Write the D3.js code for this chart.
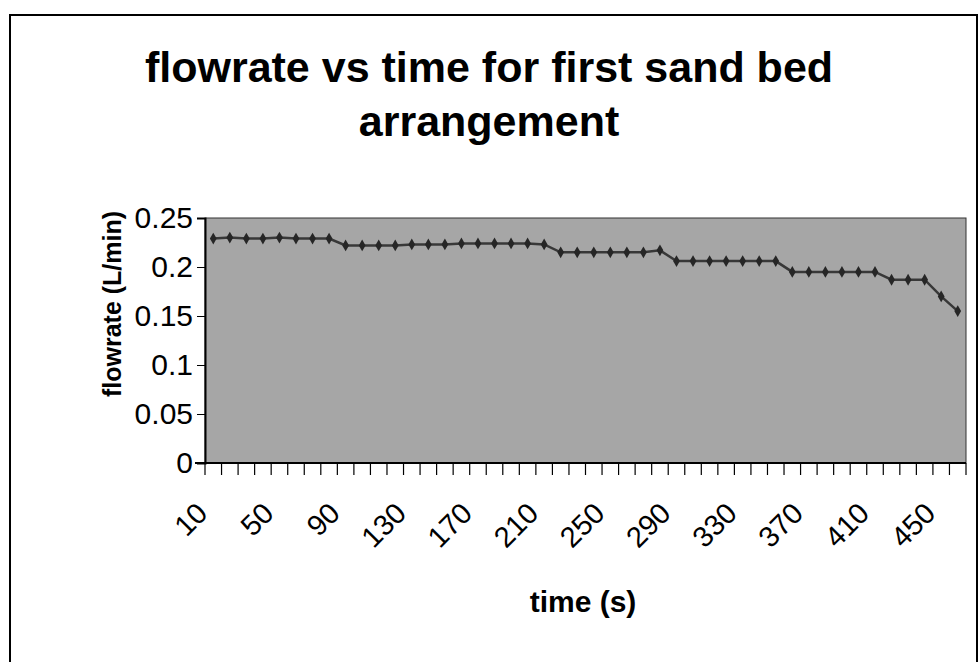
<!DOCTYPE html>
<html>
<head>
<meta charset="utf-8">
<script src="https://cdn.jsdelivr.net/npm/d3@7/dist/d3.min.js"></script>
<style>
  body { margin: 0; background: #fff; }
  svg { display: block; font-family: "Liberation Sans", Arial, sans-serif; }
</style>
</head>
<body>
<svg id="chart" width="980" height="662"></svg>
<script>
// time (s) categories
const times = [10, 20, 30, 40, 50, 60, 70, 80, 90, 100,
  110, 120, 130, 140, 150, 160, 170, 180, 190, 200,
  210, 220, 230, 240, 250, 260, 270, 280, 290, 300,
  310, 320, 330, 340, 350, 360, 370, 380, 390, 400,
  410, 420, 430, 440, 450, 460];

// flowrate (L/min)
const flowrate = [0.229, 0.23, 0.229, 0.229, 0.23, 0.229, 0.229, 0.229,
  0.222, 0.222, 0.222, 0.222, 0.223, 0.223, 0.223, 0.224, 0.224, 0.224, 0.224, 0.224, 0.223,
  0.215, 0.215, 0.215, 0.215, 0.215, 0.215, 0.217,
  0.206, 0.206, 0.206, 0.206, 0.206, 0.206, 0.206,
  0.195, 0.195, 0.195, 0.195, 0.195, 0.195,
  0.187, 0.187, 0.187,
  0.17, 0.155];

const yTicks = [0, 0.05, 0.1, 0.15, 0.2, 0.25];
const xLabels = [10, 50, 90, 130, 170, 210, 250, 290, 330, 370, 410, 450];

const data = times.map((t, i) => ({ t: t, v: flowrate[i] }));

const margin = { top: 218, right: 14, bottom: 199, left: 205 };
const W = 980, H = 662;
const width = W - margin.left - margin.right;
const height = H - margin.top - margin.bottom;

const svg = d3.select("#chart");

// outer chart border
svg.append("rect")
  .attr("x", 10).attr("y", 15)
  .attr("width", 967).attr("height", 700)
  .attr("fill", "none")
  .attr("stroke", "#000")
  .attr("stroke-width", 2);

// title
const title = svg.append("text")
  .attr("text-anchor", "middle")
  .style("font-size", "43px")
  .style("font-weight", "bold");
title.append("tspan").attr("x", 489).attr("y", 82).text("flowrate vs time for first sand bed");
title.append("tspan").attr("x", 489).attr("y", 136).text("arrangement");

const g = svg.append("g")
  .attr("transform", `translate(${margin.left},${margin.top})`);

const x = d3.scaleBand().domain(times).range([0, width]);
const y = d3.scaleLinear().domain([0, 0.25]).range([height, 0]);

// plot area
g.append("rect")
  .attr("width", width)
  .attr("height", height)
  .attr("fill", "#a6a6a6")
  .attr("stroke", "#333")
  .attr("stroke-width", 1);

// y axis
const yAxis = g.append("g")
  .call(d3.axisLeft(y).tickValues(yTicks).tickFormat(d => d === 0 ? "0" : d3.format("")(d)).tickSize(8).tickPadding(4));
yAxis.select(".domain").attr("stroke", "#000").attr("stroke-width", 2);
yAxis.selectAll("text")
  .style("font-size", "30px")
  .attr("fill", "#000");

// x axis: ticks between categories
const xAxis = g.append("g").attr("transform", `translate(0,${height})`);
xAxis.append("line")
  .attr("x1", -10).attr("x2", width)
  .attr("stroke", "#000").attr("stroke-width", 2);
const boundaries = times.map(t => x(t)).concat([width]);
xAxis.selectAll("line.tick")
  .data(boundaries)
  .enter().append("line")
  .attr("class", "tick")
  .attr("x1", d => d).attr("x2", d => d)
  .attr("y1", 0).attr("y2", 12)
  .attr("stroke", "#000").attr("stroke-width", 1.2);
xAxis.selectAll("text")
  .data(xLabels)
  .enter().append("text")
  .attr("transform", d => `translate(${x(d) + x.bandwidth() / 2 - 4},52) rotate(-45)`)
  .attr("text-anchor", "end")
  .style("font-size", "29px")
  .text(d => d);

// series line + markers
const line = d3.line()
  .x(d => x(d.t) + x.bandwidth() / 2)
  .y(d => y(d.v));

g.append("path")
  .datum(data)
  .attr("fill", "none")
  .attr("stroke", "#383838")
  .attr("stroke-width", 2.5)
  .attr("d", line);

g.selectAll("path.marker")
  .data(data)
  .enter().append("path")
  .attr("class", "marker")
  .attr("transform", d => `translate(${x(d.t) + x.bandwidth() / 2},${y(d.v)})`)
  .attr("d", d3.symbol(d3.symbolDiamond, 40))
  .attr("fill", "#262626");

// axis titles
svg.append("text")
  .attr("transform", "translate(121,304) rotate(-90)")
  .attr("text-anchor", "middle")
  .style("font-size", "25px")
  .style("font-weight", "bold")
  .text("flowrate (L/min)");

svg.append("text")
  .attr("x", 583).attr("y", 612)
  .attr("text-anchor", "middle")
  .style("font-size", "30px")
  .style("font-weight", "bold")
  .text("time (s)");
</script>
</body>
</html>
